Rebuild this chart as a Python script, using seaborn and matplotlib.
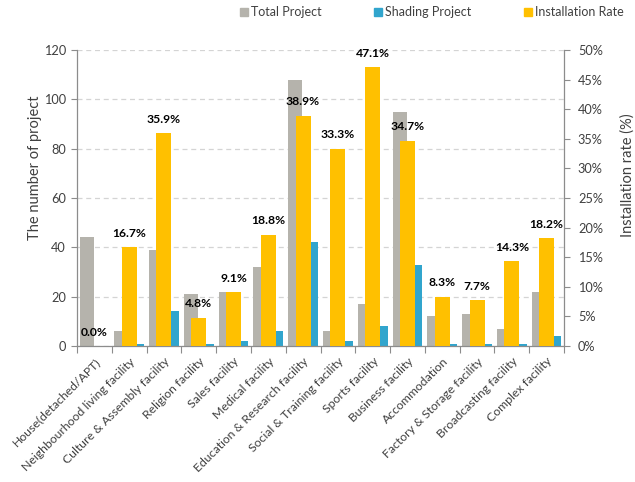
import numpy as np
import pandas as pd
import matplotlib
matplotlib.use("Agg")
import matplotlib.pyplot as plt
import seaborn as sns
from matplotlib.lines import Line2D
from matplotlib.ticker import FuncFormatter, MultipleLocator

# Building types
categories = [
    "House(detached/APT)",
    "Neighbourhood living facility",
    "Culture & Assembly facility",
    "Religion facility",
    "Sales facility",
    "Medical facility",
    "Education & Research facility",
    "Social & Training facility",
    "Sports facility",
    "Business facility",
    "Accommodation",
    "Factory & Storage facility",
    "Broadcasting facility",
    "Complex facility",
]

# Number of projects per building type
total_projects = [44, 6, 39, 21, 22, 32, 108, 6, 17, 95, 12, 13, 7, 22]
shading_projects = [0, 1, 14, 1, 2, 6, 42, 2, 8, 33, 1, 1, 1, 4]

# Share of projects with shading devices (%)
installation_rate = [0.0, 16.7, 35.9, 4.8, 9.1, 18.8, 38.9, 33.3, 47.1, 34.7, 8.3, 7.7, 14.3, 18.2]

series_names = ["Total Project", "Shading Project", "Installation Rate"]
series_colors = ["#B5B3AC", "#31A5CD", "#FFC000"]

left_ticks = [0, 20, 40, 60, 80, 100, 120]
right_ticks = [0, 5, 10, 15, 20, 25, 30, 35, 40, 45, 50]

sns.set_theme(style="white")
plt.rcParams["font.family"] = ["Lato", "DejaVu Sans"]

text_color = "#404040"
axis_color = "#8C8C8C"

counts = pd.DataFrame({
    "category": categories + categories,
    "series": [series_names[0]] * len(categories) + [series_names[1]] * len(categories),
    "value": total_projects + shading_projects,
})

fig = plt.figure(figsize=(6.35, 4.82), dpi=100)
ax = fig.add_axes([77 / 635, 1 - 346 / 482, (564 - 77) / 635, (346 - 50) / 482])

sns.barplot(
    data=counts, x="category", y="value", hue="series",
    hue_order=series_names[:2],
    palette=dict(zip(series_names[:2], series_colors[:2])),
    width=0.9, gap=0.1, saturation=1, errorbar=None,
    linewidth=0, legend=False, ax=ax,
)

ax2 = ax.twinx()
sns.barplot(
    x=categories, y=installation_rate, color=series_colors[2],
    width=0.43, saturation=1, errorbar=None, linewidth=0, ax=ax2,
)

# Value labels above the rate bars
for i, r in enumerate(installation_rate):
    ax2.annotate(
        f"{r:.1f}%", xy=(i, r), xytext=(0, 14), textcoords="offset pixels",
        ha="center", va="center", fontsize=8.7, fontweight="bold", color="black",
    )

# Axes ranges and ticks
ax.set_xlim(-0.5, len(categories) - 0.5)
ax2.set_xlim(-0.5, len(categories) - 0.5)
ax.set_ylim(0, 120)
ax2.set_ylim(0, 50)
ax.set_yticks(left_ticks)
ax2.set_yticks(right_ticks)
ax2.yaxis.set_major_formatter(FuncFormatter(lambda v, p: f"{v:.0f}%"))

ax.set_xticks(range(len(categories)))
ax.set_xticklabels(categories, rotation=45, ha="right", rotation_mode="anchor")
ax.xaxis.set_minor_locator(MultipleLocator(1, offset=0.5))
ax.tick_params(axis="x", which="major", length=0, pad=7, labelsize=8.8, labelcolor=text_color)
ax.tick_params(axis="x", which="minor", length=5, width=0.8, color=axis_color, direction="out", bottom=True)
ax.tick_params(axis="y", length=4, width=0.8, color=axis_color, direction="out", left=True,
               labelsize=9.2, labelcolor=text_color, pad=4)
ax2.tick_params(axis="y", length=4, width=0.8, color=axis_color, direction="out", right=True,
                labelsize=9.2, labelcolor=text_color, pad=6)

ax.set_xlabel("")
ax.set_ylabel("The number of project", fontsize=10.5, color=text_color)
ax2.set_ylabel("Installation rate (%)", fontsize=10.5, color=text_color)
ax.yaxis.label.set_va("center")
ax2.yaxis.label.set_va("center")
ax.yaxis.set_label_coords((35 - 77) / 487, (346 - 168) / 296)
ax2.yaxis.set_label_coords((628 - 77) / 487, (346 - 175) / 296)

# Dashed horizontal grid behind the bars
ax.set_axisbelow(True)
ax.yaxis.grid(True, linestyle=(0, (4, 3)), color="#D4D4D4", linewidth=0.9)
ax.xaxis.grid(False)

for a in (ax, ax2):
    a.spines["top"].set_visible(False)
    for s in ("left", "right", "bottom"):
        a.spines[s].set_color(axis_color)
        a.spines[s].set_linewidth(0.9)
ax.spines["right"].set_visible(False)
ax2.spines["left"].set_visible(False)
ax2.spines["bottom"].set_visible(False)

# Legend across the top
handles = [
    Line2D([], [], marker="s", linestyle="none", markersize=6,
           markerfacecolor=c, markeredgecolor=c)
    for c in series_colors
]
fig.legend(
    handles, series_names, loc="center", bbox_to_anchor=(432 / 635, 1 - 12 / 482),
    ncol=3, frameon=False, fontsize=9, columnspacing=4.2,
    handlelength=0.6, handletextpad=0.3, labelcolor=text_color,
)

fig.savefig("out.png", dpi=100)
